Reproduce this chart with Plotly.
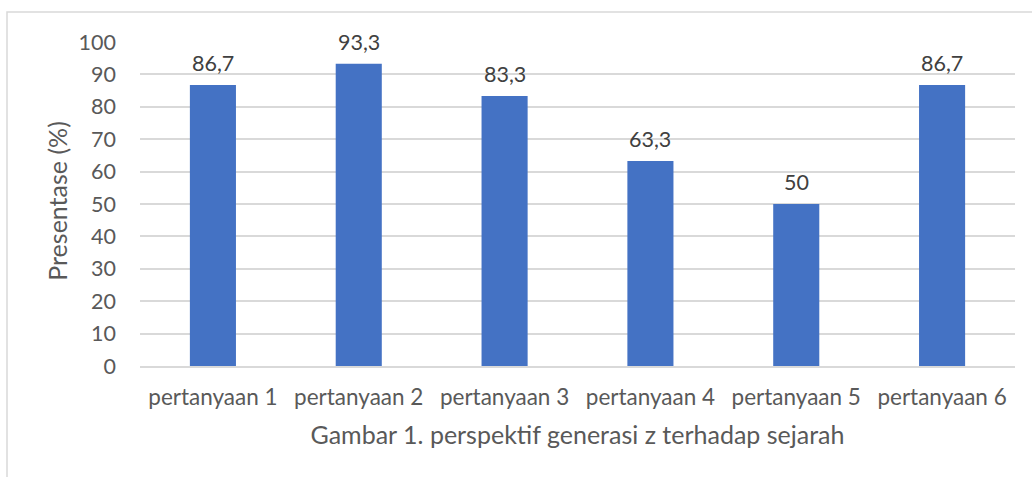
import plotly.graph_objects as go

categories = ["pertanyaan 1", "pertanyaan 2", "pertanyaan 3", "pertanyaan 4", "pertanyaan 5", "pertanyaan 6"]
values = [86.7, 93.3, 83.3, 63.3, 50, 86.7]
y_title = "Presentase (%)"
x_title = "Gambar 1. perspektif generasi z terhadap sejarah"

FONT = "Lato, 'Open Sans', sans-serif"
TXT = "#595959"

def fmt(v):
    return (f"{v:g}").replace(".", ",")

fig = go.Figure(go.Bar(
    x=categories, y=values,
    marker=dict(color="#4472C4", line=dict(width=0)),
    width=0.316, hoverinfo="skip",
))

for c, v in zip(categories, values):
    fig.add_annotation(x=c, y=v, text=fmt(v), showarrow=False, yanchor="bottom",
                       yshift=7, font=dict(family=FONT, size=21.5, color="#404040"))

W, H = 1032, 477
L, R, T, B = 140, 17, 42, 111
pw, ph = W - L - R, H - T - B

fig.add_annotation(xref="paper", yref="paper", x=(57 - L) / pw, y=0.51,
                   xanchor="center", yanchor="middle", textangle=-90, showarrow=False,
                   text=y_title, font=dict(family=FONT, size=25, color=TXT))

fig.update_layout(
    width=W, height=H,
    margin=dict(l=L, r=R, t=T, b=B, autoexpand=False),
    paper_bgcolor="white", plot_bgcolor="white",
    showlegend=False,
    font=dict(family=FONT, color=TXT),
    shapes=[dict(type="rect", xref="paper", yref="paper",
                 x0=(7 - L) / pw, x1=(W + 20 - L) / pw,
                 y0=-(B + 20) / ph, y1=(T - 12) / ph + 1,
                 line=dict(color="#d9d9d9", width=1.5))],
)
fig.update_yaxes(range=[0, 100], dtick=10, showgrid=True, gridcolor="#d9d9d9", gridwidth=1.5,
                 zeroline=False, showline=False, ticks="", ticklen=0, automargin=False,
                 tickfont=dict(family=FONT, size=21.5, color=TXT), ticklabelstandoff=23)
fig.update_xaxes(showline=True, linecolor="#d9d9d9", linewidth=1.5, showgrid=False, ticks="",
                 automargin=False, ticklabelstandoff=10,
                 tickfont=dict(family=FONT, size=22.5, color=TXT),
                 title=dict(text=x_title, font=dict(family=FONT, size=25, color=TXT), standoff=18))

fig.write_html("out.html", config={"displayModeBar": False},
               post_script="document.body.style.margin='0';")
